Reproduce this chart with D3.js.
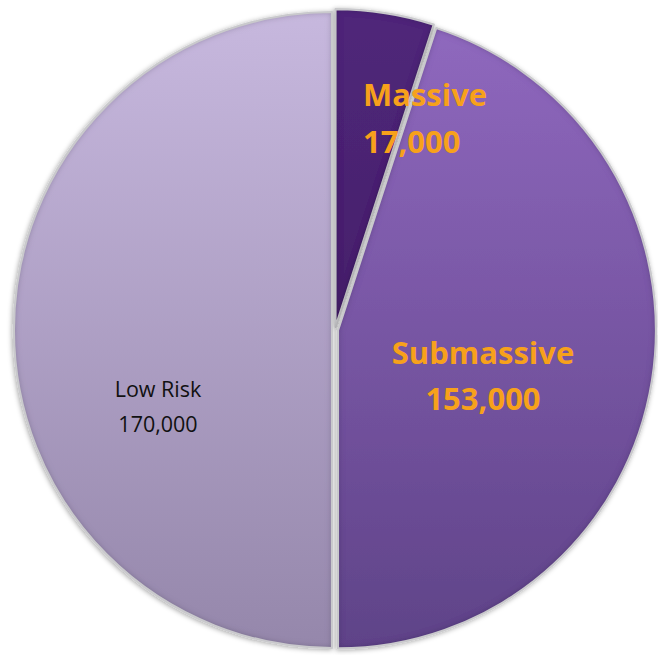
<!DOCTYPE html>
<html>
<head>
<meta charset="utf-8">
<script src="https://cdn.jsdelivr.net/npm/d3@7"></script>
<style>
  html, body { margin: 0; padding: 0; background: #ffffff; }
  svg { display: block; }
</style>
</head>
<body>
<svg id="chart" width="658" height="655"></svg>
<script>
// Pulmonary embolism risk groups (patients per year)
const categories = ["Massive", "Submassive", "Low Risk"];
const values = [17000, 153000, 170000];
const valueLabels = ["17,000", "153,000", "170,000"];

// slice colours: [top, bottom] of a vertical gradient
const sliceColors = [
  ["#50277a", "#3a1a5a"],
  ["#9069bf", "#5f4388"],
  ["#c7b8de", "#9587ab"]
];

const width = 658, height = 655;
const cx = 335, cy = 330, radius = 318, explode = 3;

const svg = d3.select("#chart");
const defs = svg.append("defs");

const shadow = defs.append("filter").attr("id", "shadow")
  .attr("x", "-10%").attr("y", "-10%").attr("width", "120%").attr("height", "120%");
shadow.append("feDropShadow").attr("dx", -1).attr("dy", 1)
  .attr("stdDeviation", 2.5).attr("flood-color", "#000").attr("flood-opacity", 0.35);

sliceColors.forEach((c, i) => {
  const g = defs.append("linearGradient").attr("id", "grad" + i)
    .attr("gradientUnits", "userSpaceOnUse")
    .attr("x1", 0).attr("y1", -radius).attr("x2", 0).attr("y2", radius);
  g.append("stop").attr("offset", "0%").attr("stop-color", c[0]);
  g.append("stop").attr("offset", "100%").attr("stop-color", c[1]);
});

// inner bevel: darkened blurred edge kept inside each slice
const bevel = defs.append("filter").attr("id", "bevel");
bevel.append("feGaussianBlur").attr("in", "SourceAlpha").attr("stdDeviation", 3).attr("result", "blur");
bevel.append("feComposite").attr("in", "SourceAlpha").attr("in2", "blur")
  .attr("operator", "arithmetic").attr("k2", 1).attr("k3", -1).attr("result", "edge");
bevel.append("feFlood").attr("flood-color", "#1a0a2a").attr("flood-opacity", 0.55);
bevel.append("feComposite").attr("in2", "edge").attr("operator", "in").attr("result", "dark");
bevel.append("feMerge").selectAll("feMergeNode")
  .data(["SourceGraphic", "dark"]).join("feMergeNode").attr("in", d => d);

const pie = d3.pie().sort(null).value(d => d)(values);
const arc = d3.arc().innerRadius(0).outerRadius(radius);

const g = svg.append("g").attr("transform", `translate(${cx},${cy})`);

const slices = g.selectAll("g.slice").data(pie).join("g")
  .attr("class", "slice")
  .attr("transform", d => {
    const a = (d.startAngle + d.endAngle) / 2;
    return `translate(${Math.sin(a) * explode},${-Math.cos(a) * explode})`;
  })
  .attr("filter", "url(#shadow)");

slices.append("path")
  .attr("d", arc)
  .attr("fill", (d, i) => `url(#grad${i})`)
  .attr("filter", "url(#bevel)");

slices.append("path")
  .attr("d", arc)
  .attr("fill", "none")
  .attr("stroke", "#c9c9cc")
  .attr("stroke-width", 2.2)
  .attr("stroke-linejoin", "round");

// data labels
const labelFont = "'Open Sans', Lato, sans-serif";
const labelSpecs = [
  { x: 363 - cx, y: 106 - cy, anchor: "start", color: "#f7a11b", size: 31, weight: "bold", gap: 47 },
  { x: 483 - cx, y: 364 - cy, anchor: "middle", color: "#f7a11b", size: 31, weight: "bold", gap: 46 },
  { x: 158 - cx, y: 397 - cy, anchor: "middle", color: "#111111", size: 21.5, weight: "normal", gap: 35 }
];

pie.forEach((d, i) => {
  const s = labelSpecs[i];
  const t = g.append("text")
    .attr("x", s.x).attr("y", s.y)
    .attr("text-anchor", s.anchor)
    .attr("fill", s.color)
    .attr("font-family", labelFont)
    .attr("font-size", s.size)
    .attr("font-weight", s.weight);
  t.append("tspan").attr("x", s.x).text(categories[i]);
  t.append("tspan").attr("x", s.x).attr("dy", s.gap).text(valueLabels[i]);
});
</script>
</body>
</html>
